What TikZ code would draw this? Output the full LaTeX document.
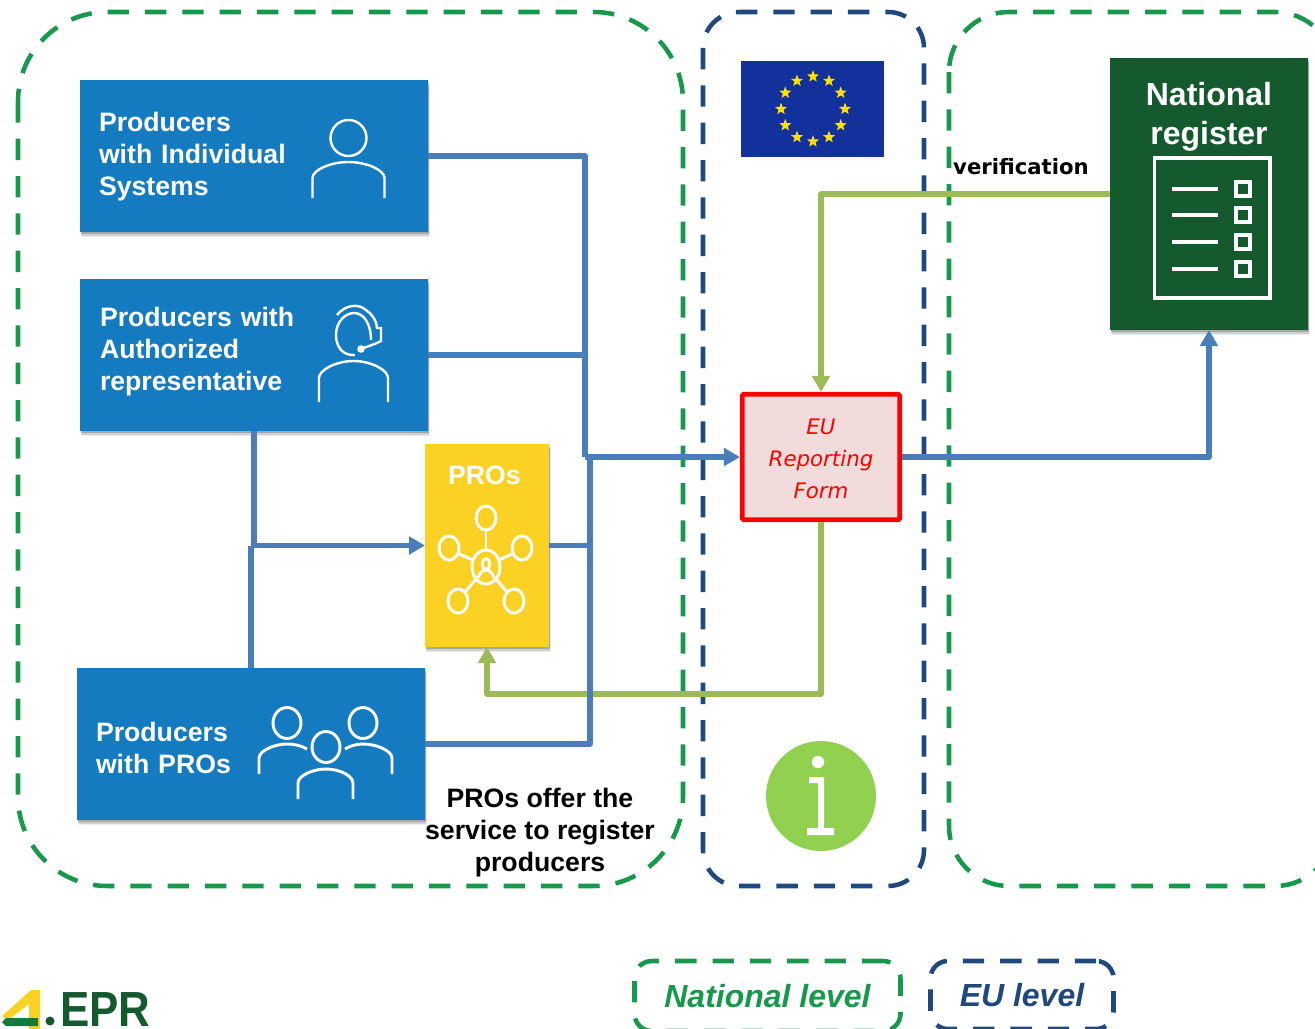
\documentclass[tikz,border=0pt]{standalone}
\usepackage{fontspec}
\setmainfont{Liberation Sans}
\newfontfamily\verdfont{DejaVu Sans}
\usepackage{tikz}
\usetikzlibrary{
  arrows.meta,
  positioning,
  shadows,
  shapes.geometric
}
\definecolor{boxblue}{HTML}{147BC0}
\definecolor{regreen}{HTML}{155A2F}
\definecolor{proyellow}{HTML}{FBD124}
\definecolor{linkblue}{HTML}{4A7EBB}
\definecolor{linkgreen}{HTML}{9BBB59}
\definecolor{dashgreen}{HTML}{16994C}
\definecolor{dashblue}{HTML}{1F497D}
\definecolor{formfill}{HTML}{F2DCDB}
\definecolor{flagblue}{HTML}{13319A}
\definecolor{infogreen}{HTML}{92D14F}
\tikzset{
  >={Triangle[length=12pt,width=13pt]},
  softshadow/.style={
    drop shadow={shadow xshift=1.5pt, shadow yshift=-4pt, opacity=.07, fill=black},
    drop shadow={shadow xshift=1pt, shadow yshift=-3pt, opacity=.12, fill=black},
    drop shadow={shadow xshift=.5pt, shadow yshift=-1.8pt, opacity=.2, fill=black}},
  bluebox/.style={rectangle, fill=boxblue, softshadow, text=white, outer sep=0pt, inner xsep=14.25pt,
    text width=232.5pt, minimum height=114pt, align=left, font=\fontsize{20}{24}\selectfont\bfseries},
  titletext/.style={inner sep=0pt, align=center, text=white, font=\fontsize{20}{24}\selectfont\bfseries},
  blacktext/.style={inner sep=0pt, align=center, font=\fontsize{20}{24}\selectfont\bfseries},
  linkb/.style={draw=linkblue, line width=4pt, line join=round},
  linkg/.style={draw=linkgreen, line width=4pt, line join=round},
  greendash/.style={draw=dashgreen, line width=3.4pt, dash pattern=on 16pt off 12pt},
  navydash/.style={draw=dashblue, line width=3.4pt, dash pattern=on 16pt off 12pt},
  legendbox/.style={rectangle, rounded corners=13pt, outer sep=0pt, font=\fontsize{24}{29}\selectfont\bfseries\itshape},
  eustar/.style={star, star points=5, star point ratio=2.4, fill=yellow!85!orange, inner sep=0pt, minimum size=9.5pt},
  iconline/.style={draw=white, line width=1.8pt},
  person/.pic={
    \draw[iconline] (0,0) circle[radius=18];
    \draw[iconline] (-36,60) -- (-36,40) .. controls (-36,32) and (-18,24) .. (0,24)
      .. controls (18,24) and (36,32) .. (36,40) -- (36,60);
  }
}

\begin{document}
\begin{tikzpicture}[x=.75pt, y=-.75pt]
    \clip (0,0) rectangle (1315,1029);
    % levels
    \draw[greendash, rounded corners=67pt] (18,12) rectangle (683,886);
    \draw[navydash, rounded corners=27pt] (703,12) rectangle (924,886);
    \draw[greendash, rounded corners=45pt] (949,12) rectangle (1335,886);
    % boxes
    \node[bluebox] (pis) at (254,156) {\rule{0pt}{16pt}Producers\\with Individual\\Systems};
    \node[bluebox, below=35.25pt of pis] (par) {\hspace{.75pt}Producers with\\\hspace{.75pt}Authorized\\\hspace{.75pt}representative\rule[-8.7pt]{0pt}{1pt}};
    \node[bluebox, below=177.75pt of par, xshift=-2.25pt] (pwp) {\rule{0pt}{20.5pt}Producers\\with PROs};
    \node[fill=proyellow, softshadow, outer sep=0pt, minimum width=93pt, minimum height=152.25pt] (pros) at (487,545.5) {};
    \node[titletext] (prostitle) at (484.5,475) {PROs};
    \node[fill=regreen, softshadow, outer sep=0pt, minimum width=148.5pt, minimum height=204pt] (reg) at (1209,194) {};
    \node[titletext, font=\fontsize{24}{29}\selectfont\bfseries] (regtitle) at (1209,117) {National\\register};
    \node[rectangle, draw=red, line width=3.6pt, rounded corners=1pt, fill=formfill, outer sep=1.8pt, minimum width=118pt, minimum height=94pt,
      inner sep=0pt, align=center, text=red, font=\fontsize{16}{24}\verdfont\itshape] (form) at (821,457) {\rule{0pt}{14pt}EU\\Reporting\\Form};
    \node[fill=flagblue, outer sep=0pt, minimum width=107.25pt, minimum height=72pt] (flag) at (812.5,109) {};
    \foreach \i in {0,...,11}
      \node[eustar] (star\i) at ({813+32*cos(30*\i)},{109+32.5*sin(30*\i)}) {};
    \node[circle, fill=infogreen, minimum size=82.5pt, inner sep=0pt] (info) at (821,796) {};
    \fill[white] (818,762) circle[radius=6.2];
    \fill[white] (809,777) -- (824,777) -- (824,828) -- (834,828) -- (834,835) -- (807,835) -- (807,828) -- (818,828) -- (818,783) -- (809,783) -- cycle;
    % texts
    \node[blacktext] (offer) at (540,833) {PROs offer the\\service to register\\producers};
    \node[inner sep=0pt, font=\fontsize{15.9}{19}\verdfont\bfseries] (verif) at (1021,167) {verification};
    % legend
    \node[legendbox, draw=dashgreen, line width=3.4pt, dash pattern=on 16pt off 12pt, text=dashgreen, minimum width=199.5pt, minimum height=52.5pt] (lgnat) at (767.5,996) {National level};
    \node[legendbox, draw=dashblue, line width=3.4pt, dash pattern=on 16pt off 12pt, text=dashblue, minimum width=137.25pt, minimum height=51pt] (lgeu) at (1022,995) {EU level};
    % links
    \coordinate (busa) at (585,457);
    \coordinate (busb) at (590,457);
    \coordinate (back) at (821,694);
    \draw[linkg, ->] (reg.west) -| (form.north);
    \draw[linkg, ->] (form.south) -- (back) -| (pros.south);
    \draw[linkb] (pis.east) -| (busa);
    \draw[linkb] (par.east) -- (par.east -| busa);
    \draw[linkb, ->] (busa) -- (form.west);
    \draw[linkb, ->] (par.south) |- (pros.west);
    \draw[linkb] (pwp.north) -- (pwp.north |- pros.west);
    \draw[linkb] (pros.east) -- (pros.east -| busb);
    \draw[linkb, line width=4.2pt] (pwp.east) -| (busb);
    \draw[linkb, ->] (form.east) -| (reg.south);
    % icons
    \pic at (348.5,138) {person};
    \begin{scope}[iconline]
      \draw (319,402) -- (319,378) .. controls (319,370) and (336,361) .. (353.5,361)
        .. controls (371,361) and (388,370) .. (388,378) -- (388,402);
      \draw (355,355) .. controls (342,356) and (336,346) .. (336,335) .. controls (336,322) and (345,313) .. (354,313)
        .. controls (364,313) and (371,324) .. (371,340);
      \draw (337,315) .. controls (345,305) and (358,303) .. (366,310) .. controls (372,314) and (377,321) .. (377,328)
        -- (381,328) -- (381,341) -- (377,343) -- (361,349);
      \fill[white] (361,349) circle[radius=3.8];
      % three people
      \begin{scope}[line width=2.2pt]
        \draw (287,723) ellipse[x radius=14, y radius=15.5];
        \draw (363,723) ellipse[x radius=14, y radius=15.5];
        \draw (326,747) ellipse[x radius=14, y radius=15.5];
        \draw (259,774) -- (259,758) .. controls (259,751) and (274,744) .. (287,744) .. controls (295,744) and (302,746) .. (307,749);
        \draw (345,749) .. controls (350,746) and (356,744) .. (363,744) .. controls (377,744) and (392,751) .. (392,758) -- (392,774);
        \draw (298,799) -- (298,783) .. controls (298,776) and (312,769) .. (326,769) .. controls (340,769) and (353,776) .. (353,783) -- (353,799);
      \end{scope}
      % network
      \begin{scope}[line width=2.2pt]
        \draw (486,567) ellipse[x radius=14, y radius=17];
        \draw (486,564) ellipse[x radius=3.8, y radius=5.5];
        \draw (478,578) .. controls (480,572) and (483,570) .. (486,570) .. controls (489,570) and (492,572) .. (494,578);
        \draw (486,518) ellipse[x radius=10, y radius=12];
        \draw (449,548) ellipse[x radius=10, y radius=12];
        \draw (522,548) ellipse[x radius=10, y radius=12];
        \draw (458,601) ellipse[x radius=10, y radius=12];
        \draw (514,601) ellipse[x radius=10, y radius=12];
        \draw (486,530) -- (486,550);
        \draw (459,554) -- (473,560);
        \draw (512,554) -- (499,560);
        \draw (465,592) -- (476,579);
        \draw (507,592) -- (496,579);
      \end{scope}
      % register
      \draw[line width=2.5pt] (1154.5,158) rectangle (1270,298);
      \foreach \y in {189,215,242,269} {
        \draw[line width=2.5pt] (1172,\y) -- (1218,\y);
        \draw[line width=2.8pt] (1236,\y-7) rectangle (1250,\y+7);
      }
    \end{scope}
    % logo
    \fill[proyellow] (31,990) -- (40,990) -- (40,1029) -- (29,1029) -- (29,1004) -- (8,1020) -- (2,1016) -- cycle;
    \fill[dashgreen!80!black] (2,1022) -- (6,1018) -- (38,1018) -- (38,1026) -- (6,1026) -- cycle;
    \fill[regreen] (50,1021) circle[radius=4.5];
    \node[anchor=base west, inner sep=0pt, text=regreen, font=\fontsize{37}{37}\selectfont\bfseries] (epr) at (60,1026) {\scalebox{.89}[1]{EPR}};
\end{tikzpicture}
\end{document}
